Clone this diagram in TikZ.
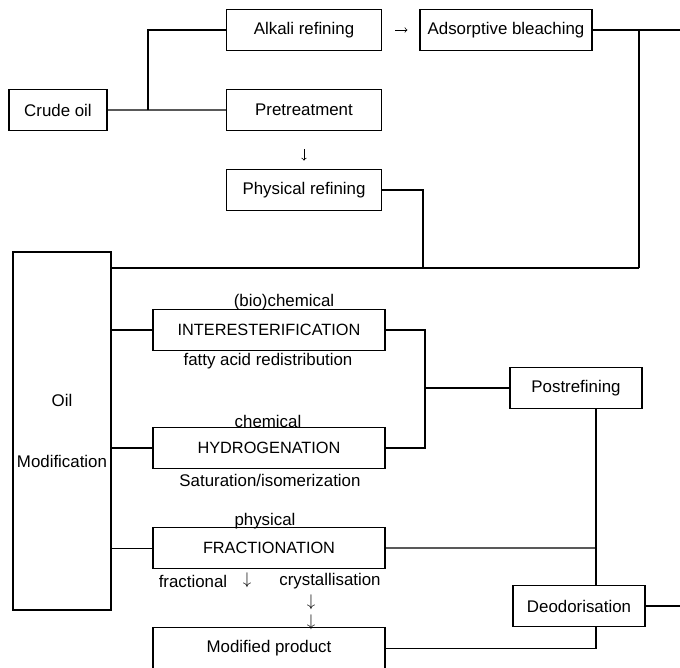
\documentclass[tikz,border=0pt]{standalone}
\usepackage{fontspec}
\setmainfont{Liberation Sans}

\begin{document}
\begin{tikzpicture}[x=0.025cm, y=-0.025cm, node distance=2cm,
  every node/.style={font=\fontsize{12}{14.4}\selectfont},
  box/.style={draw, rectangle, line width=0.8pt, minimum height=1.025cm, inner sep=2pt},
  wide/.style={box, minimum width=5.8cm, font=\fontsize{11.6}{13.5}\selectfont},
  note/.style={inner sep=0pt},
  link/.style={line width=0.8pt},
  tip/.style={->, line width=0.5pt}]
\useasboundingbox (0,0) rectangle (680,667);

% refining
\node[box, minimum width=2.45cm] (crude) at (58,110) {Crude oil};
\node[box, minimum width=3.875cm] (alkali) at (304,30) {Alkali refining};
\node[box, minimum width=4.3cm] (bleach) at (506,30) {Adsorptive bleaching};
\node[box, minimum width=3.875cm, below of=alkali] (pretreat) {Pretreatment};
\node[box, minimum width=3.875cm, below of=pretreat] (physref) {Physical refining};

% modification
\node[box, minimum width=2.45cm, minimum height=8.95cm, align=center] (oilmod) at (62,431) {Oil\\[1cm]Modification};
\node[wide] (inter) at (269,330) {INTERESTERIFICATION};
\node[wide, below of=inter, node distance=2.95cm] (hydro) {HYDROGENATION};
\node[wide, below of=hydro, node distance=2.5cm] (frac) {FRACTIONATION};
\node[box, minimum width=5.8cm, below of=frac, node distance=2.5cm] (product) {Modified product};
\node[box, minimum width=3.3cm] (postref) at (576,388) {Postrefining};
\node[box, minimum width=3.3cm] (deodor) at (579,606) {Deodorisation};

% labels
\node[note] (biochem) at (284,302) {(bio)chemical};
\node[note] (fatty) at (268,361) {fatty acid redistribution};
\node[note] (chem) at (268,421) {chemical};
\node[note] (satur) at (270,480) {Saturation/isomerization};
\node[note] (phys) at (265,521) {physical};
\node[note] (fractional) at (193,581) {fractional};
\node[note] (fracdown) at (247,580) {$\downarrow$};
\node[note] (crystal) at (330,581) {crystallisation};
\node[note] (down1) at (311,602) {$\downarrow$};
\node[note] (down2) at (311,622) {$\downarrow$};

\coordinate (split) at (148,110);
\coordinate (east1) at (680,30);
\coordinate (drop1) at (639,30);
\coordinate (drop2) at (423,268);
\coordinate (bus) at (639,268);
\coordinate (merge) at (425,388);
\coordinate (stem) at (596,548);
\coordinate (east2) at (680,606);

\draw[link] (crude) -- (pretreat);
\draw[link] (split) |- (alkali);
\draw[tip, shorten <=0.325cm, shorten >=0.3cm] (alkali) -- (bleach);
\draw[tip, shorten <=0.46cm, shorten >=0.21cm] (pretreat) -- (physref);
\draw[link] (bleach) -- (east1);
\draw[link] (drop1) -- (bus);
\draw[link] (physref) -| (drop2);
\draw[link] (oilmod.east |- bus) -- (bus);
\draw[link] (oilmod.east |- inter) -- (inter);
\draw[link] (oilmod.east |- hydro) -- (hydro);
\draw[link] (oilmod.east |- frac) -- (frac);
\draw[link] (inter) -| (merge) |- (hydro);
\draw[link] (merge) -- (postref);
\draw[link] (postref.south -| stem) -- (deodor.north -| stem);
\draw[link] (frac) -- (stem);
\draw[link] (product) -| (deodor.south -| stem);
\draw[link] (deodor) -- (east2);
\end{tikzpicture}
\end{document}
